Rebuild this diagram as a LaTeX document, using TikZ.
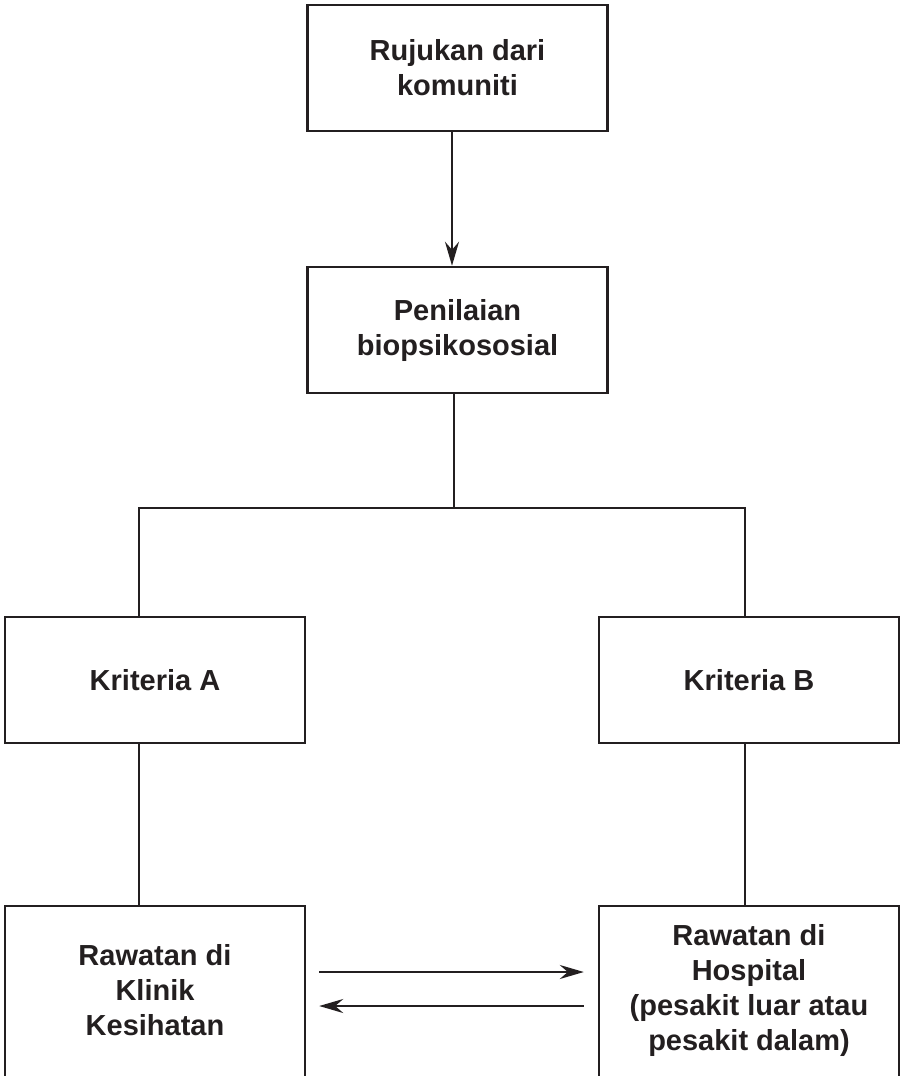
\documentclass[tikz,border=0pt]{standalone}
\usepackage{fontspec}
\setmainfont{Liberation Sans}
\usetikzlibrary{arrows.meta}
\definecolor{ink}{HTML}{231F20}
\begin{document}
\begin{tikzpicture}[x=1pt,y=-1pt,
  every node/.style={text=ink, font=\bfseries\fontsize{29}{35}\selectfont, align=center, inner sep=0pt},
  boxnode/.style={draw=ink, line width=2.5pt, minimum width=300pt, minimum height=126pt},
  openbox/.style={minimum width=300pt, minimum height=168pt},
  conn/.style={draw=ink, line width=2.4pt},
  arr/.style={conn, -{Stealth[length=24pt,width=14pt,inset=8pt]}}]
\useasboundingbox (0,0) rectangle (902,1076);
\clip (0,0) rectangle (902,1076);
\node[boxnode] (rujukan) at (457.5,68) {Rujukan dari\\komuniti};
\node[boxnode] (penilaian) at (457.5,330) {Penilaian\\biopsikososial};
\node[boxnode] (kritA) at (155,680) {Kriteria A};
\node[boxnode] (kritB) at (749,680) {Kriteria B};
\node[openbox] (klinik) at (155,990) {Rawatan di\\Klinik\\Kesihatan};
\node[openbox] (hospital) at (749,990) {Rawatan di\\Hospital\\(pesakit luar atau\\pesakit dalam)};
% open boxes (bottom edge falls outside the picture)
\draw[draw=ink, line width=2.5pt] ([yshift=-12pt]klinik.south west) -- (klinik.north west) -- (klinik.north east) -- ([yshift=-12pt]klinik.south east);
\draw[draw=ink, line width=2.5pt] ([yshift=-12pt]hospital.south west) -- (hospital.north west) -- (hospital.north east) -- ([yshift=-12pt]hospital.south east);
% connectors
\draw[arr] ([xshift=-5.5pt]rujukan.south) -- ([xshift=-5.5pt]penilaian.north);
\coordinate (jn) at (454,508);
\draw[conn] (penilaian.south -| jn) -- (jn);
\draw[conn] ([xshift=-16pt]kritA.north) |- (jn) -| ([xshift=-4pt]kritB.north);
\draw[conn] ([xshift=-16pt]kritA.south) -- ([xshift=-16pt]klinik.north);
\draw[conn] ([xshift=-4pt]kritB.south) -- ([xshift=-4pt]hospital.north);
\draw[arr] ([shift={(14pt,18pt)}]klinik.east) -- ([shift={(-15pt,18pt)}]hospital.west);
\draw[arr] ([shift={(-15pt,-16pt)}]hospital.west) -- ([shift={(14pt,-16pt)}]klinik.east);
\end{tikzpicture}
\end{document}
